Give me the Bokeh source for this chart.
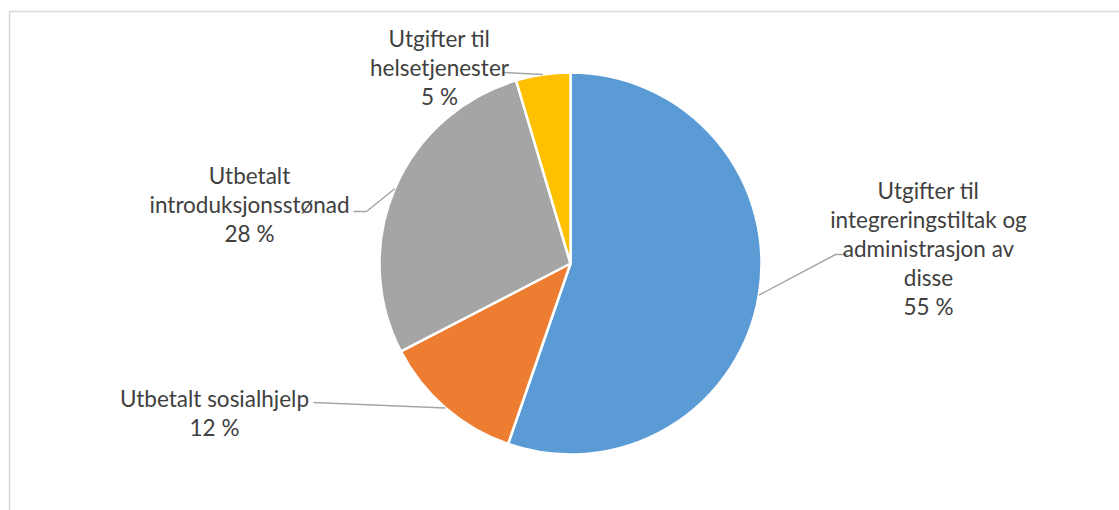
import math
from bokeh.plotting import figure
from bokeh.models import Range1d, ColumnDataSource
from bokeh.core.properties import value
from bokeh.embed import file_html
from bokeh.resources import INLINE

# ---- data ----
categories = [
    "Utgifter til integreringstiltak og administrasjon av disse",
    "Utbetalt sosialhjelp",
    "Utbetalt introduksjonsstønad",
    "Utgifter til helsetjenester",
]
label_lines = [
    ["Utgifter til", "integreringstiltak og", "administrasjon av", "disse"],
    ["Utbetalt sosialhjelp"],
    ["Utbetalt", "introduksjonsstønad"],
    ["Utgifter til", "helsetjenester"],
]
shares = [55.3, 12.1, 28.0, 4.6]
colors = ["#5B9BD5", "#ED7D31", "#A5A5A5", "#FFC000"]

# ---- layout (page pixels) ----
W, H = 1119, 510
def X(x): return x
def Y(y): return H - y

CX, CY, R = 570, 263, 191
FONT = "Lato"
FSIZE = "22.5px"
LINE_H = 29
TEXT_COLOR = "#404040"
LEADER_COLOR = "#A6A6A6"

# label centre x, first line y, leader points after the slice edge point
label_layout = [
    dict(x=928, y=190, leader=[(835, 254), (847, 254)]),
    dict(x=214, y=398, leader=[(313, 402)]),
    dict(x=249, y=175, leader=[(366, 211), (353, 211)]),
    dict(x=439, y=38, leader=[(502, 72)]),
]

p = figure(width=W, height=H, x_range=Range1d(0, W), y_range=Range1d(0, H),
           output_backend="svg", toolbar_location=None, min_border=0,
           background_fill_color="white", border_fill_color="white")
p.axis.visible = False
p.grid.visible = False
p.outline_line_color = None

# chart frame (top and left visible)
p.line([X(9), X(9), X(1119)], [Y(510), Y(11), Y(11)], line_color="#D9D9D9", line_width=1.5)

total = sum(shares)
starts, ends, mids = [], [], []
c = 0.0
for s in shares:
    a0 = math.pi / 2 - 2 * math.pi * c / total
    c += s
    a1 = math.pi / 2 - 2 * math.pi * c / total
    starts.append(a0)
    ends.append(a1)
    mids.append((a0 + a1) / 2)

src = ColumnDataSource(dict(x=[X(CX)] * 4, y=[Y(CY)] * 4, start=starts, end=ends,
                            color=colors, cat=categories))
p.wedge(x="x", y="y", radius=R, start_angle="start", end_angle="end",
        direction="clock", fill_color="color", line_color="white", line_width=2.5,
        source=src)

for i, lay in enumerate(label_layout):
    ex = X(CX) + R * math.cos(mids[i])
    ey = Y(CY) + R * math.sin(mids[i])
    xs = [ex] + [X(a) for a, b in lay["leader"]]
    ys = [ey] + [Y(b) for a, b in lay["leader"]]
    p.line(xs, ys, line_color=LEADER_COLOR, line_width=1.5)
    lines = label_lines[i] + ["%d %%" % round(shares[i])]
    tx = [X(lay["x"])] * len(lines)
    ty = [Y(lay["y"] + k * LINE_H) for k in range(len(lines))]
    p.text(x=tx, y=ty, text=lines, text_align="center", text_baseline="middle",
           text_font=value(FONT), text_font_size=FSIZE, text_color=TEXT_COLOR)

open("out.html", "w").write(file_html(p, INLINE))
